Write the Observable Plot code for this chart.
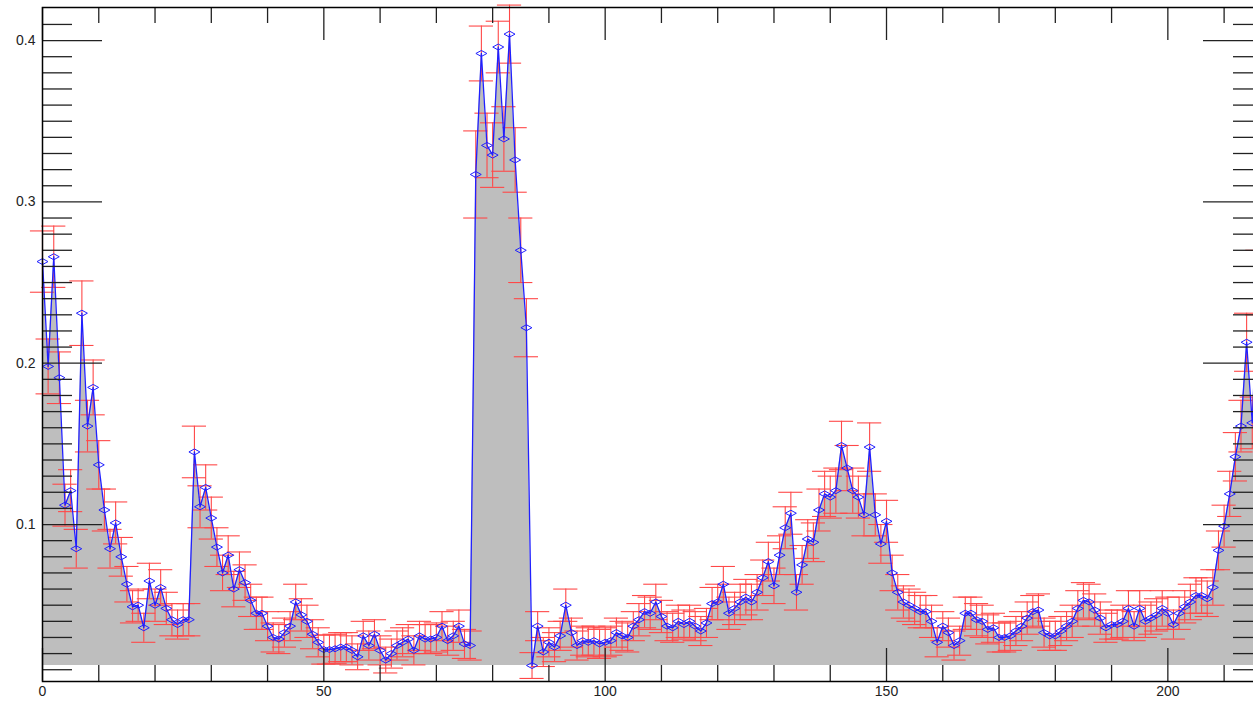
<!DOCTYPE html>
<html>
<head>
<meta charset="utf-8">
<script src="https://cdn.jsdelivr.net/npm/d3@7"></script>
<script src="https://cdn.jsdelivr.net/npm/@observablehq/plot@0.6"></script>
<style>
  html, body { margin: 0; padding: 0; background: #fff; overflow: hidden; }
  #chart { width: 1253px; height: 702px; overflow: hidden; }
  #chart svg { max-width: none !important; width: 1280px !important; height: 702px !important; display: block; }
</style>
</head>
<body>
<div id="chart"></div>
<script>
// Series values (one per channel index 0..216)
const values = [
  0.263, 0.198, 0.266, 0.191, 0.112, 0.121, 0.085, 0.231, 0.161, 0.185,
  0.137, 0.109, 0.085, 0.101, 0.080, 0.063, 0.049, 0.050, 0.036, 0.065,
  0.050, 0.061, 0.048, 0.041, 0.038, 0.041, 0.041, 0.145, 0.111, 0.123,
  0.104, 0.086, 0.070, 0.081, 0.060, 0.072, 0.064, 0.053, 0.045, 0.045,
  0.037, 0.030, 0.029, 0.033, 0.037, 0.052, 0.044, 0.040, 0.032, 0.027,
  0.0225, 0.0225, 0.023, 0.024, 0.024, 0.022, 0.018, 0.031, 0.025, 0.032,
  0.022, 0.016, 0.020, 0.025, 0.027, 0.029, 0.022, 0.031, 0.029, 0.029,
  0.030, 0.037, 0.028, 0.031, 0.037, 0.026, 0.025, 0.317, 0.392, 0.335,
  0.329, 0.396, 0.339, 0.404, 0.326, 0.270, 0.222, 0.0126, 0.037, 0.021,
  0.027, 0.024, 0.031, 0.050, 0.033, 0.025, 0.028, 0.027, 0.028, 0.026,
  0.027, 0.028, 0.033, 0.031, 0.030, 0.037, 0.041, 0.046, 0.045, 0.052,
  0.043, 0.037, 0.036, 0.040, 0.038, 0.040, 0.037, 0.034, 0.039, 0.051,
  0.052, 0.063, 0.045, 0.048, 0.052, 0.055, 0.052, 0.058, 0.067, 0.077,
  0.062, 0.081, 0.098, 0.107, 0.058, 0.075, 0.091, 0.089, 0.109, 0.119,
  0.117, 0.121, 0.149, 0.135, 0.121, 0.117, 0.106, 0.148, 0.106, 0.088,
  0.102, 0.070, 0.058, 0.052, 0.050, 0.048, 0.046, 0.046, 0.040, 0.027,
  0.037, 0.033, 0.025, 0.028, 0.045, 0.045, 0.041, 0.040, 0.035, 0.036,
  0.030, 0.030, 0.031, 0.034, 0.037, 0.042, 0.046, 0.047, 0.033, 0.031,
  0.031, 0.034, 0.037, 0.040, 0.048, 0.053, 0.052, 0.047, 0.042, 0.036,
  0.038, 0.038, 0.040, 0.048, 0.037, 0.048, 0.040, 0.042, 0.044, 0.048,
  0.045, 0.038, 0.045, 0.049, 0.052, 0.056, 0.056, 0.054, 0.061, 0.084,
  0.099, 0.119, 0.142, 0.161, 0.213, 0.163, 0.250
];

// Error half-widths
const errors = [
  0.019, 0.017, 0.019, 0.016, 0.013, 0.013, 0.012, 0.020, 0.016, 0.017,
  0.015, 0.013, 0.012, 0.013, 0.012, 0.011, 0.010, 0.010, 0.009, 0.011,
  0.010, 0.011, 0.010, 0.010, 0.009, 0.010, 0.010, 0.016, 0.013, 0.014,
  0.013, 0.012, 0.011, 0.012, 0.011, 0.011, 0.011, 0.010, 0.010, 0.010,
  0.009, 0.009, 0.009, 0.009, 0.009, 0.011, 0.010, 0.010, 0.009, 0.009,
  0.009, 0.009, 0.009, 0.009, 0.009, 0.009, 0.008, 0.009, 0.009, 0.009,
  0.009, 0.008, 0.009, 0.009, 0.009, 0.009, 0.009, 0.009, 0.009, 0.009,
  0.009, 0.009, 0.009, 0.009, 0.010, 0.009, 0.009, 0.027, 0.017, 0.020,
  0.020, 0.016, 0.020, 0.018, 0.020, 0.020, 0.018, 0.008, 0.009, 0.009,
  0.009, 0.009, 0.009, 0.010, 0.009, 0.009, 0.009, 0.009, 0.009, 0.009,
  0.009, 0.009, 0.009, 0.009, 0.009, 0.009, 0.010, 0.010, 0.010, 0.011,
  0.010, 0.009, 0.009, 0.010, 0.009, 0.010, 0.009, 0.009, 0.009, 0.010,
  0.011, 0.011, 0.010, 0.010, 0.011, 0.011, 0.011, 0.011, 0.011, 0.012,
  0.011, 0.012, 0.013, 0.013, 0.011, 0.012, 0.012, 0.012, 0.013, 0.014,
  0.013, 0.014, 0.015, 0.014, 0.014, 0.013, 0.013, 0.015, 0.013, 0.012,
  0.013, 0.011, 0.011, 0.010, 0.010, 0.010, 0.010, 0.010, 0.010, 0.009,
  0.009, 0.009, 0.009, 0.009, 0.010, 0.010, 0.010, 0.010, 0.009, 0.009,
  0.009, 0.009, 0.009, 0.009, 0.009, 0.010, 0.010, 0.010, 0.009, 0.009,
  0.009, 0.009, 0.009, 0.010, 0.011, 0.011, 0.011, 0.010, 0.010, 0.009,
  0.009, 0.009, 0.010, 0.011, 0.009, 0.011, 0.010, 0.010, 0.010, 0.011,
  0.010, 0.009, 0.010, 0.010, 0.011, 0.011, 0.011, 0.011, 0.011, 0.012,
  0.013, 0.014, 0.015, 0.016, 0.018, 0.016, 0.020
];

// Tick values
const xMajorTicks = [0, 50, 100, 150, 200];
const xMinorTicks = [10, 20, 30, 40, 60, 70, 80, 90, 110, 120, 130, 140, 160, 170, 180, 190, 210];
const yMajorTicks = [0.1, 0.2, 0.3, 0.4];
const yMinorTicks = [0.01, 0.02, 0.03, 0.04, 0.05, 0.06, 0.07, 0.08, 0.09,
  0.11, 0.12, 0.13, 0.14, 0.15, 0.16, 0.17, 0.18, 0.19,
  0.21, 0.22, 0.23, 0.24, 0.25, 0.26, 0.27, 0.28, 0.29,
  0.31, 0.32, 0.33, 0.34, 0.35, 0.36, 0.37, 0.38, 0.39, 0.41];

const data = values.map((v, i) => ({x: i, v, lo: v - errors[i], hi: v + errors[i]}));
const baseline = d3.min(values);

const W = 1280, H = 702;
const mL = 42, mR = 17, mT = 7, mB = 21;
const innerW = W - mL - mR, innerH = H - mT - mB;
const capHalf = 2.15;

const flatDiamond = {
  draw(ctx) {
    ctx.moveTo(-5.5, 0); ctx.lineTo(0, -3); ctx.lineTo(5.5, 0); ctx.lineTo(0, 3); ctx.closePath();
  }
};

const tickColor = "#222";
const red = "#ff4848";
const blue = "#2020ff";

const chart = Plot.plot({
  width: W, height: H,
  marginLeft: mL, marginRight: mR, marginTop: mT, marginBottom: mB,
  x: {domain: [0, 217], axis: null},
  y: {domain: [0.0027, 0.4205], axis: null},
  style: {fontFamily: "'Liberation Sans', Arial, Helvetica, sans-serif", fontSize: "14px", background: "#fff", maxWidth: "none"},
  marks: [
    Plot.areaY(data, {x: "x", y1: baseline, y2: "v", fill: "#bebebe"}),
    Plot.ruleX(data, {x: "x", y1: "lo", y2: "hi", stroke: red, strokeWidth: 1.1}),
    Plot.ruleY(data, {y: "hi", x1: d => d.x - capHalf, x2: d => d.x + capHalf, stroke: red, strokeWidth: 1.1}),
    Plot.ruleY(data, {y: "lo", x1: d => d.x - capHalf, x2: d => d.x + capHalf, stroke: red, strokeWidth: 1.1}),
    Plot.line(data, {x: "x", y: "v", stroke: blue, strokeWidth: 1.3}),
    Plot.dot(data, {x: "x", y: "v", symbol: flatDiamond, stroke: blue, strokeWidth: 1, fill: "none"}),
    // inward ticks: left & right
    Plot.ruleY(yMinorTicks, {y: d => d, insetRight: innerW - 30, stroke: tickColor, strokeWidth: 1.3}),
    Plot.ruleY(yMajorTicks, {y: d => d, insetRight: innerW - 60, stroke: tickColor, strokeWidth: 1.3}),
    Plot.ruleY(yMinorTicks, {y: d => d, insetLeft: innerW - 30, stroke: tickColor, strokeWidth: 1.3}),
    Plot.ruleY(yMajorTicks, {y: d => d, insetLeft: innerW - 60, stroke: tickColor, strokeWidth: 1.3}),
    // inward ticks: top & bottom
    Plot.ruleX(xMinorTicks, {x: d => d, insetBottom: innerH - 16, stroke: tickColor, strokeWidth: 1.3}),
    Plot.ruleX(xMajorTicks, {x: d => d, insetBottom: innerH - 33, stroke: tickColor, strokeWidth: 1.3}),
    Plot.ruleX(xMinorTicks, {x: d => d, insetTop: innerH - 16, stroke: tickColor, strokeWidth: 1.3}),
    Plot.ruleX(xMajorTicks, {x: d => d, insetTop: innerH - 33, stroke: tickColor, strokeWidth: 1.3}),
    Plot.frame({stroke: "#000", strokeWidth: 1.5}),
    // tick labels
    Plot.text(yMajorTicks, {y: d => d, text: d => d.toFixed(1), frameAnchor: "left", textAnchor: "end", dx: -7, fill: "#222", fontSize: 14}),
    Plot.text(xMajorTicks, {x: d => d, text: d => String(d), frameAnchor: "bottom", lineAnchor: "top", dy: 5, fill: "#222", fontSize: 14})
  ]
});

document.getElementById("chart").appendChild(chart);
</script>
</body>
</html>
